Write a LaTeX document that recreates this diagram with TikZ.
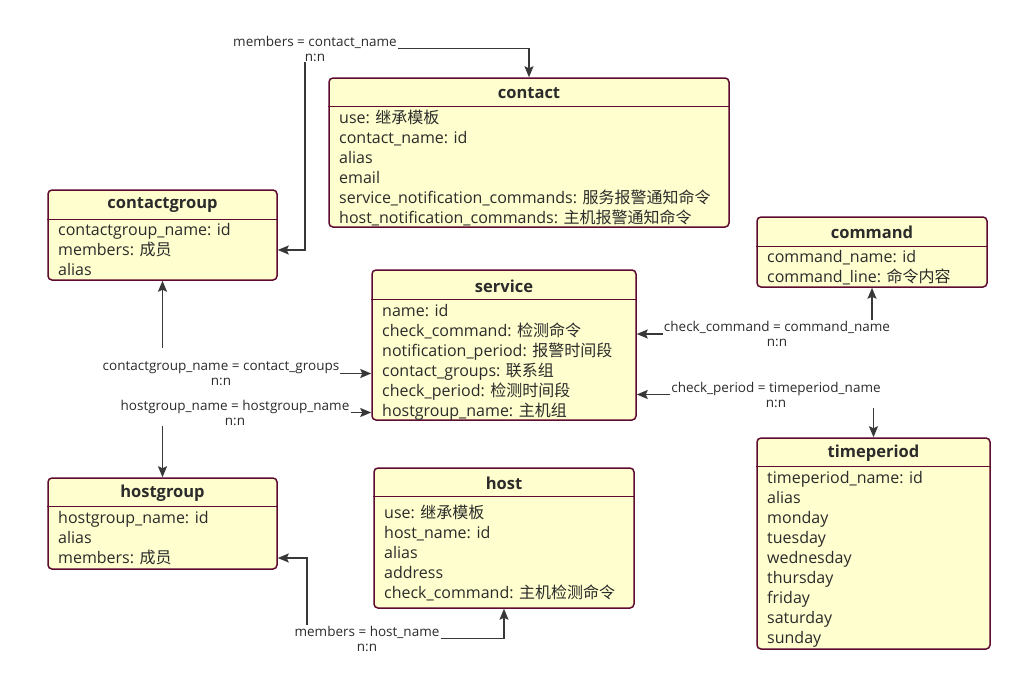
\documentclass[tikz,border=0pt]{standalone}
\usepackage{fontspec}
\setmainfont{Open Sans}
\newfontfamily\cjk{Noto Sans CJK SC}
\usetikzlibrary{arrows.meta,calc}
\definecolor{entfill}{HTML}{FEFECE}
\definecolor{entline}{HTML}{5F0A30}
\definecolor{relline}{HTML}{383838}
\definecolor{txt}{HTML}{2B2B2B}
\begin{document}
\begin{tikzpicture}[x=1pt, y=-1pt,
    entbox/.style={draw=entline, fill=entfill, line width=1.5pt, rounded corners=4pt, inner sep=0pt},
    headsep/.style={draw=entline, line width=1.5pt},
    title/.style={text=txt, font=\fontsize{16.5}{18}\selectfont\bfseries, inner sep=0pt},
    field/.style={anchor=west, text=txt, font=\fontsize{16}{18}\selectfont, inner sep=0pt, text height=13.5pt, text depth=2.5pt},
    rel/.style={draw=relline, line width=1.5pt, -{Stealth[length=11pt,width=9pt,inset=2pt]}},
    rellabel/.style={text=txt, font=\fontsize{13.5}{15}\selectfont, align=center, inner sep=1pt}]

    \useasboundingbox[fill=white] (0,0) rectangle (1021,680);

    % contact
    \node[entbox, minimum width=400pt, minimum height=149pt] (contact) at (529,152.5) {};
    \draw[headsep] ($(contact.north west)+(0,29)$) -- ($(contact.north east)+(0,29)$);
    \node[title] (contact-t) at (529,93.5) {contact};
    \node[field] (ct-use) at (339,118) {use: {\cjk 继承模板}};
    \node[field] (ct-name) at (339,138) {contact\_name: id};
    \node[field] (ct-alias) at (339,158) {alias};
    \node[field] (ct-email) at (339,178) {email};
    \node[field] (ct-snc) at (339,198) {service\_notification\_commands: {\cjk 服务报警通知命令}};
    \node[field] (ct-hnc) at (339,218) {host\_notification\_commands: {\cjk 主机报警通知命令}};

    % contactgroup
    \node[entbox, minimum width=229pt, minimum height=90pt] (contactgroup) at (162.5,235) {};
    \draw[headsep] ($(contactgroup.north west)+(0,30)$) -- ($(contactgroup.north east)+(0,30)$);
    \node[title] (cg-t) at (162.5,205.5) {contactgroup};
    \node[field] (cg-name) at (58,230) {contactgroup\_name: id};
    \node[field] (cg-mem) at (58,250) {members: {\cjk 成员}};
    \node[field] (cg-alias) at (58,270) {alias};

    % service
    \node[entbox, minimum width=264pt, minimum height=150pt] (service) at (504,345) {};
    \draw[headsep] ($(service.north west)+(0,30)$) -- ($(service.north east)+(0,30)$);
    \node[title] (sv-t) at (504,286.5) {service};
    \node[field] (sv-name) at (382,311) {name: id};
    \node[field] (sv-cc) at (382,331) {check\_command: {\cjk 检测命令}};
    \node[field] (sv-np) at (382,351) {notification\_period: {\cjk 报警时间段}};
    \node[field] (sv-cg) at (382,371) {contact\_groups: {\cjk 联系组}};
    \node[field] (sv-cp) at (382,391) {check\_period: {\cjk 检测时间段}};
    \node[field] (sv-hg) at (382,411) {hostgroup\_name: {\cjk 主机组}};

    % command
    \node[entbox, minimum width=230pt, minimum height=70pt] (command) at (872,252) {};
    \draw[headsep] ($(command.north west)+(0,30)$) -- ($(command.north east)+(0,30)$);
    \node[title] (cm-t) at (872,232.5) {command};
    \node[field] (cm-name) at (767,257) {command\_name: id};
    \node[field] (cm-line) at (767,277) {command\_line: {\cjk 命令内容}};

    % timeperiod
    \node[entbox, minimum width=233pt, minimum height=211pt] (timeperiod) at (873.5,543.5) {};
    \draw[headsep] ($(timeperiod.north west)+(0,29)$) -- ($(timeperiod.north east)+(0,29)$);
    \node[title] (tp-t) at (873.5,453.5) {timeperiod};
    \node[field] (tp-name) at (767,478) {timeperiod\_name: id};
    \node[field] (tp-alias) at (767,498) {alias};
    \node[field] (tp-mon) at (767,518) {monday};
    \node[field] (tp-tue) at (767,538) {tuesday};
    \node[field] (tp-wed) at (767,558) {wednesday};
    \node[field] (tp-thu) at (767,578) {thursday};
    \node[field] (tp-fri) at (767,598) {friday};
    \node[field] (tp-sat) at (767,618) {saturday};
    \node[field] (tp-sun) at (767,638) {sunday};

    % hostgroup
    \node[entbox, minimum width=229pt, minimum height=91pt] (hostgroup) at (162.5,523.5) {};
    \draw[headsep] ($(hostgroup.north west)+(0,29)$) -- ($(hostgroup.north east)+(0,29)$);
    \node[title] (hg-t) at (162.5,493.5) {hostgroup};
    \node[field] (hg-name) at (58,518) {hostgroup\_name: id};
    \node[field] (hg-alias) at (58,538) {alias};
    \node[field] (hg-mem) at (58,558) {members: {\cjk 成员}};

    % host
    \node[entbox, minimum width=260pt, minimum height=140pt] (host) at (504,538) {};
    \draw[headsep] ($(host.north west)+(0,29)$) -- ($(host.north east)+(0,29)$);
    \node[title] (hs-t) at (504,483.5) {host};
    \node[field] (hs-use) at (384,513) {use: {\cjk 继承模板}};
    \node[field] (hs-name) at (384,533) {host\_name: id};
    \node[field] (hs-alias) at (384,553) {alias};
    \node[field] (hs-addr) at (384,573) {address};
    \node[field] (hs-cc) at (384,593) {check\_command: {\cjk 主机检测命令}};

    % 关系标注
    \node[rellabel] (m-contact) at (315,48.5) {members = contact\_name\\n:n};
    \node[rellabel] (m-cgroups) at (221,373.5) {contactgroup\_name = contact\_groups\\n:n};
    \node[rellabel] (m-hgroups) at (235,412.5) {hostgroup\_name = hostgroup\_name\\n:n};
    \node[rellabel] (m-host) at (367,638.5) {members = host\_name\\n:n};
    \node[rellabel] (m-command) at (777,334) {check\_command = command\_name\\n:n};
    \node[rellabel] (m-period) at (776,394.5) {check\_period = timeperiod\_name\\n:n};

    % 连线
    \draw[rel] (m-contact.east) -| (contact.north);
    \draw[rel] ($(m-contact.south)+(-10,0)$) |- (contactgroup.east |- cg-mem);
    \draw[rel] (m-cgroups.east) -- (m-cgroups.east -| service.west);
    \draw[rel, shorten <=12pt] (contactgroup.south |- m-cgroups.north) -- (contactgroup.south);
    \draw[rel] (m-hgroups.east) -- (m-hgroups.east -| service.west);
    \draw[rel] (hostgroup.north |- m-hgroups.south) -- (hostgroup.north);
    \draw[rel] (m-host.east) -| (host.south);
    \draw[rel] ($(m-host.north)+(-60,0)$) |- (hostgroup.east |- hg-mem);
    \draw[rel] (m-command.west) -- (m-command.west -| service.east);
    \draw[rel] (command.south |- m-command.north) -- (command.south);
    \draw[rel] (m-period.west) -- (m-period.west -| service.east);
    \draw[rel] (timeperiod.north |- m-period.south) -- (timeperiod.north);
\end{tikzpicture}
\end{document}
